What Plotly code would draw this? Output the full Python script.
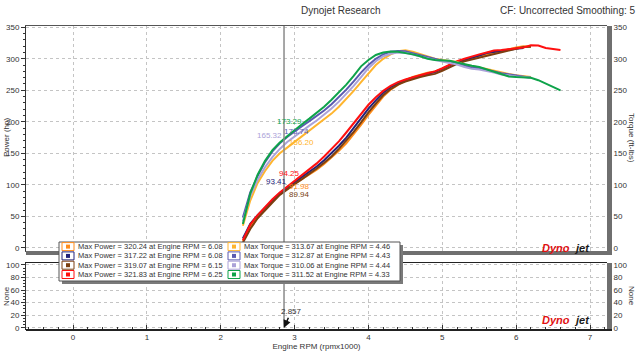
import plotly.graph_objects as go

# ---------------- data ----------------
rpm = [2.3, 2.4, 2.5, 2.6, 2.7, 2.8, 2.9, 3.0, 3.1, 3.2, 3.3, 3.4, 3.5, 3.6, 3.7, 3.8, 3.9,
       4.0, 4.1, 4.2, 4.3, 4.4, 4.5, 4.6, 4.7, 4.8, 4.9, 5.0, 5.1, 5.2, 5.3, 5.4, 5.5, 5.6,
       5.7, 5.8, 5.9, 6.0, 6.1, 6.2, 6.3, 6.4, 6.5, 6.6]

power_orange = [10, 33, 48, 61, 74, 85, 94, 102, 109, 116, 124, 133, 143, 154, 166, 180, 195,
                211, 226, 240, 251, 259, 266, 271, 275, 278, 280, 284, 290, 295, 298, 301, 304, 307,
                310, 313, 316, 318, 320, 319, None, None, None, None]
power_navy = [15, 38, 52, 64, 76, 87, 96, 104, 112, 120, 129, 139, 150, 162, 175, 190, 206,
              221, 234, 246, 255, 261, 266, 270, 273, 276, 279, 284, 290, 295, 298, 301, 305, 309,
              311, 313, 315, 316, 317, None, None, None, None, None]
power_brown = [8, 30, 47, 60, 72, 84, 93, 101, 109, 117, 126, 135, 145, 157, 170, 184, 199,
               215, 229, 242, 252, 259, 264, 268, 271, 274, 276, 281, 287, 292, 296, 299, 302, 305,
               307, 310, 313, 316, 318.5, 319, None, None, None, None]
power_red = [12, 37, 52, 65, 77, 88, 97, 106, 115, 124, 134, 145, 157, 169, 183, 198, 213,
             227, 239, 249, 257, 263, 267, 271, 274, 277, 280, 285, 291, 296, 300, 304, 307, 310,
             313, 314, 315, 316, 318, 321.5, 321, 317, 315, 314]

torque_orange = [35, 75, 103, 122, 138, 150, 159, 168, 176, 185, 194, 203, 213, 224, 236, 249, 263,
                 277, 290, 300, 307, 312, 313.5, 311, 307, 303, 300, 298, 297, 295, 291, 288, 286, 284,
                 281, 278, 276, 274, 272, 271, None, None, None, None]
torque_blue = [48, 88, 114, 136, 153, 166, 176, 185, 193, 201, 209, 218, 228, 239, 251, 264, 278,
               290, 300, 307, 311, 312.5, 312, 309, 306, 302, 299, 297, 296, 293, 289, 286, 285, 283,
               280, 277, 275, 273, 271, 270, None, None, None, None]
torque_lavender = [42, 82, 108, 128, 144, 157, 168, 177, 185, 194, 202, 211, 221, 232, 244, 257, 271,
                   285, 296, 304, 308, 310, 309.5, 307, 304, 301, 298, 296, 294, 291, 287, 284, 283, 281,
                   278, 275, 273, 272, 271, 270, None, None, None, None]
torque_green = [38, 86, 116, 138, 155, 167, 177, 187, 196, 205, 214, 224, 235, 247, 259, 273, 288,
                298, 306, 310, 311.5, 311, 309.5, 307, 304, 300, 298, 298, 297, 294, 291, 289, 287, 283,
                280, 276, 272, 271, 271, 270, 266, 261, 255, 250]

power_names = ["Power run 1", "Power run 2", "Power run 3", "Power run 4"]
torque_names = ["Torque run 1", "Torque run 2", "Torque run 3", "Torque run 4"]
power_colors = ["#FF8C1A", "#22227A", "#7B3F10", "#FF1010"]
torque_colors = ["#FFB52E", "#5A5AB0", "#ABA2D8", "#0EA34A"]

max_power = [320.24, 317.22, 319.07, 321.83]
max_power_rpm = [6.08, 6.08, 6.15, 6.25]
max_torque = [313.67, 312.87, 310.06, 311.52]
max_torque_rpm = [4.46, 4.43, 4.44, 4.33]

cursor_rpm = 2.857
cursor_power = [91.98, 93.41, 89.94, 94.25]
cursor_power_label_pos = [(3.06, 98), (2.76, 105), (3.06, 85), (2.93, 118)]
cursor_torque = [156.20, 173.74, 165.32, 173.29]
cursor_torque_label_pos = [(3.09, 167), (3.02, 184), (2.66, 178), (2.93, 200)]

x_ticks = [0, 1, 2, 3, 4, 5, 6, 7]

# ---------------- layout geometry (pixels) ----------------
W, H = 640, 360
L, R, T, B = 26, 33, 26, 31
PW, PH = W - L - R, H - T - B


def px(xp):
    return (xp - L) / PW


def py(yp):
    return (H - B - yp) / PH


top_dom = [py(251), 1.0]
bot_dom = [0.0, py(263)]

FONT = "Liberation Sans, Arial, sans-serif"
TXT = "#333333"

fig = go.Figure()

power_series = [power_orange, power_navy, power_brown, power_red]
torque_series = [torque_orange, torque_blue, torque_lavender, torque_green]

for name, ys, c in zip(torque_names, torque_series, torque_colors):
    fig.add_trace(go.Scatter(x=rpm, y=ys, mode="lines", name=name,
                             line=dict(color=c, width=2), xaxis="x2", yaxis="y2",
                             showlegend=False, connectgaps=False))
for name, ys, c in zip(power_names, power_series, power_colors):
    fig.add_trace(go.Scatter(x=rpm, y=ys, mode="lines", name=name,
                             line=dict(color=c, width=2), xaxis="x2", yaxis="y",
                             showlegend=False, connectgaps=False))
# invisible traces so that the lower subplot exists
fig.add_trace(go.Scatter(x=[None], y=[None], xaxis="x", yaxis="y3", showlegend=False))
fig.add_trace(go.Scatter(x=[None], y=[None], xaxis="x", yaxis="y4", showlegend=False))

grid = dict(showgrid=True, gridcolor="#c4c4c4", griddash="dot", gridwidth=1)
tickfont = dict(family=FONT, size=8, color=TXT)
xrange = [(L - 73) / 73.86, (W - R - 73) / 73.86]

fig.update_layout(
    width=W, height=H,
    margin=dict(l=L, r=R, t=T, b=B, autoexpand=False),
    paper_bgcolor="white", plot_bgcolor="white",
    font=dict(family=FONT, size=8, color=TXT),
    xaxis=dict(domain=[0, 1], anchor="y3", range=xrange, tickvals=x_ticks, automargin=False,
               ticks="inside", ticklen=4, tickcolor="#333",
               minor=dict(dtick=0.2, tick0=0, ticks="inside", ticklen=2, tickcolor="#333", showgrid=False),
               showline=True, linecolor="#222", linewidth=1, mirror=True,
               tickfont=tickfont, zeroline=False,
               title=dict(text="Engine RPM (rpmx1000)", font=dict(family=FONT, size=8, color=TXT), standoff=0),
               **grid),
    xaxis2=dict(domain=[0, 1], anchor="y", range=xrange, tickvals=x_ticks, matches="x", automargin=False,
                showticklabels=False, ticks="", showline=True, linecolor="#555",
                linewidth=1, mirror=True, zeroline=False, **grid),
    yaxis=dict(domain=top_dom, anchor="x2", range=[-5, 352], tickvals=[0, 50, 100, 150, 200, 250, 300, 350],
               ticks="outside", ticklen=4, tickcolor="#333", automargin=False,
               minor=dict(dtick=10, tick0=0, ticks="outside", ticklen=2, tickcolor="#333", showgrid=False),
               showline=True, linecolor="#333", linewidth=1, tickfont=tickfont, zeroline=False,
               **grid),
    yaxis2=dict(domain=top_dom, anchor="x2", overlaying="y", side="right", range=[-5, 352],
                tickvals=[0, 50, 100, 150, 200, 250, 300, 350], automargin=False,
                ticks="outside", ticklen=4, tickcolor="#333",
                minor=dict(dtick=10, tick0=0, ticks="outside", ticklen=2, tickcolor="#333", showgrid=False),
                showline=False, tickfont=tickfont, showgrid=False, zeroline=False),
    yaxis3=dict(domain=bot_dom, anchor="x", range=[-2, 103], tickvals=[0, 20, 40, 60, 80, 100],
                ticks="outside", ticklen=4, tickcolor="#333", automargin=False,
                minor=dict(dtick=5, tick0=0, ticks="outside", ticklen=2, tickcolor="#333", showgrid=False),
                showline=True, linecolor="#333", linewidth=1, tickfont=tickfont, zeroline=False,
                **grid),
    yaxis4=dict(domain=bot_dom, anchor="x", overlaying="y3", side="right", range=[-2, 103],
                tickvals=[0, 20, 40, 60, 80, 100], automargin=False,
                ticks="outside", ticklen=4, tickcolor="#333",
                minor=dict(dtick=5, tick0=0, ticks="outside", ticklen=2, tickcolor="#333", showgrid=False),
                showline=False, tickfont=tickfont, showgrid=False, zeroline=False),
)

shapes = []
ann = []

# cursor lines
shapes.append(dict(type="line", xref="x2", yref="y", x0=cursor_rpm, x1=cursor_rpm, y0=-5, y1=352,
                   line=dict(color="#8a8a8a", width=1.5)))
shapes.append(dict(type="line", xref="x", yref="y3", x0=cursor_rpm, x1=cursor_rpm, y0=0, y1=103,
                   line=dict(color="#8a8a8a", width=1.5)))

# frame shadows
shade = "#6f6f6f"
shapes.append(dict(type="rect", xref="paper", yref="paper", x0=px(26), x1=px(612), y0=py(255), y1=py(251),
                   fillcolor=shade, line=dict(width=0), layer="above"))
shapes.append(dict(type="rect", xref="paper", yref="paper", x0=px(607), x1=px(612), y0=py(255), y1=py(26),
                   fillcolor=shade, line=dict(width=0), layer="above"))
shapes.append(dict(type="rect", xref="paper", yref="paper", x0=px(607), x1=px(612), y0=py(331), y1=py(263),
                   fillcolor=shade, line=dict(width=0), layer="above"))
shapes.append(dict(type="rect", xref="paper", yref="paper", x0=px(26), x1=px(612), y0=py(331), y1=py(329),
                   fillcolor="#222", line=dict(width=0), layer="above"))

# legend box
shapes.append(dict(type="rect", xref="paper", yref="paper", x0=px(62), x1=px(403), y0=py(284), y1=py(245),
                   fillcolor="#7a7a7a", line=dict(width=0), layer="above"))
shapes.append(dict(type="rect", xref="paper", yref="paper", x0=px(59), x1=px(400), y0=py(281), y1=py(242),
                   fillcolor="white", line=dict(color="#555", width=1), layer="above"))

row_y = [246.6, 255.9, 265.2, 274.5]
for i in range(4):
    yc = row_y[i]
    for (sx, col, txt) in [
        (62, power_colors[i], f"Max Power = {max_power[i]:.2f} at Engine RPM = {max_power_rpm[i]:.2f}"),
        (228, torque_colors[i], f"Max Torque = {max_torque[i]:.2f} at Engine RPM = {max_torque_rpm[i]:.2f}"),
    ]:
        shapes.append(dict(type="rect", xref="paper", yref="paper", x0=px(sx), x1=px(sx + 12),
                           y0=py(yc + 4), y1=py(yc - 4), fillcolor="white",
                           line=dict(color=col, width=1), layer="above"))
        shapes.append(dict(type="rect", xref="paper", yref="paper", x0=px(sx + 4), x1=px(sx + 8),
                           y0=py(yc + 2), y1=py(yc - 2), fillcolor=col,
                           line=dict(width=0), layer="above"))
        ann.append(dict(xref="paper", yref="paper", x=px(sx + 14), y=py(yc), text=txt, showarrow=False,
                        xanchor="left", yanchor="middle", font=dict(family=FONT, size=7.5, color=TXT)))

# cursor value labels
for v, (lx, ly), c in zip(cursor_torque, cursor_torque_label_pos, torque_colors):
    ann.append(dict(xref="x2", yref="y", x=lx, y=ly, text=f"{v:.2f}", showarrow=False,
                    font=dict(family=FONT, size=8, color=c)))
for v, (lx, ly), c in zip(cursor_power, cursor_power_label_pos, power_colors):
    ann.append(dict(xref="x2", yref="y", x=lx, y=ly, text=f"{v:.2f}", showarrow=False,
                    font=dict(family=FONT, size=8, color=c)))

# cursor position marker in the lower plot
ann.append(dict(xref="x", yref="y3", x=cursor_rpm, y=0, ax=7, ay=-16, text=f"{cursor_rpm:.3f}",
                showarrow=True, arrowhead=2, arrowsize=1, arrowwidth=1.5, arrowcolor="#111",
                font=dict(family=FONT, size=8, color=TXT)))

# titles
ann.append(dict(xref="paper", yref="paper", x=px(340), y=py(10), text="Dynojet Research", showarrow=False,
                xanchor="center", yanchor="middle", font=dict(family=FONT, size=10, color=TXT)))
ann.append(dict(xref="paper", yref="paper", x=px(637), y=py(10), text="CF: Uncorrected Smoothing: 5",
                showarrow=False, xanchor="right", yanchor="middle", font=dict(family=FONT, size=10, color=TXT)))
ann.append(dict(xref="paper", yref="paper", x=px(6), y=py(138), text="Power (hp)", textangle=-90,
                showarrow=False, xanchor="center", yanchor="middle", font=dict(family=FONT, size=8, color=TXT)))
ann.append(dict(xref="paper", yref="paper", x=px(632), y=py(138), text="Torque (ft-lbs)", textangle=90,
                showarrow=False, xanchor="center", yanchor="middle", font=dict(family=FONT, size=8, color=TXT)))
ann.append(dict(xref="paper", yref="paper", x=px(6), y=py(296), text="None", textangle=-90,
                showarrow=False, xanchor="center", yanchor="middle", font=dict(family=FONT, size=8, color=TXT)))
ann.append(dict(xref="paper", yref="paper", x=px(632), y=py(296), text="None", textangle=90,
                showarrow=False, xanchor="center", yanchor="middle", font=dict(family=FONT, size=8, color=TXT)))

# Dynojet logos
for yc in [248, 320]:
    ann.append(dict(xref="paper", yref="paper", x=px(572), y=py(yc), text="<b><i>Dyno</i></b>",
                    showarrow=False, xanchor="right", yanchor="middle",
                    font=dict(family=FONT, size=11, color="#E01010")))
    ann.append(dict(xref="paper", yref="paper", x=px(572), y=py(yc), text="<b><i>jet</i></b>",
                    showarrow=False, xanchor="left", yanchor="middle",
                    font=dict(family=FONT, size=11, color="#1a1a1a")))

fig.update_layout(shapes=shapes, annotations=ann)
fig.write_html("out.html", config={"displayModeBar": False},
               post_script="document.body.style.margin='0px';")
